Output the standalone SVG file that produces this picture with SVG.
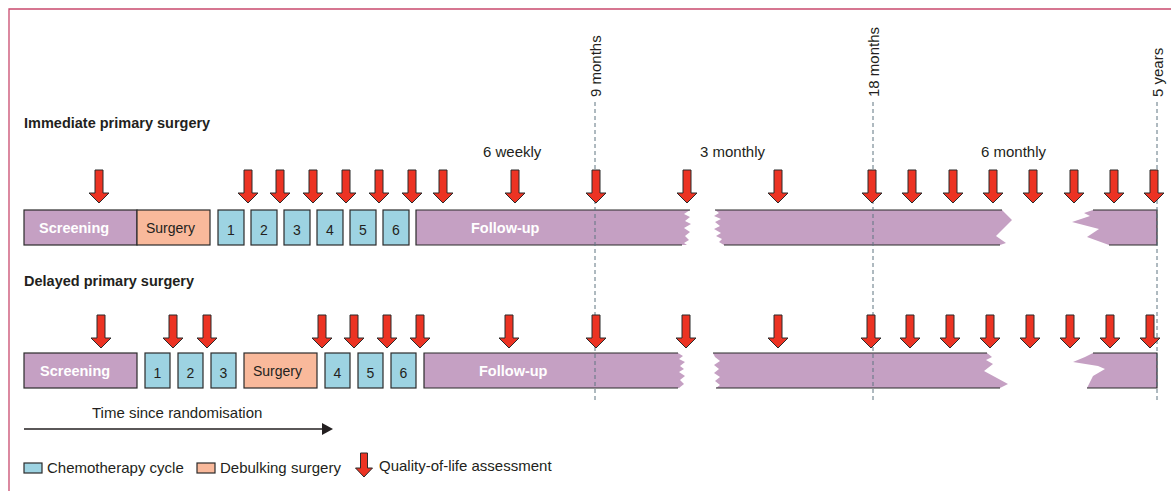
<svg xmlns="http://www.w3.org/2000/svg" width="1171" height="491" viewBox="0 0 1171 491">
<style>
text{font-family:"Liberation Sans",Arial,sans-serif;fill:#231f20}
.lbl{font-size:15px}
.ttl{font-size:14.5px;font-weight:bold}
.wt{font-size:14.5px;font-weight:bold;fill:#fff}
.num{font-size:14px;text-anchor:middle}
.scr{fill:#c5a0c3;stroke:#2b2b2b;stroke-width:1.2}
.sur{fill:#f9b99b;stroke:#2b2b2b;stroke-width:1.2}
.che{fill:#9dd3e2;stroke:#2b2b2b;stroke-width:1.2}
.fu{fill:#c5a0c3;stroke:none}
.edge{fill:none;stroke:#2b2b2b;stroke-width:1.2}
.dash{stroke:#5f7480;stroke-width:1;stroke-dasharray:4 3;fill:none}
.qa{fill:#ec3323;stroke:#2b2b2b;stroke-width:1}
</style>
<defs>
<path id="arr" class="qa" d="M-4,0 H4 V23 H10 L0,33 L-10,23 H-4 Z"/>
</defs>

<g id="border" fill="none" stroke="#c94a6e" stroke-width="1.3">
<path d="M9,491 V9 H1171"/>
</g>

<g id="milestones">
<text class="lbl" transform="translate(601,97) rotate(-90)">9 months</text>
<text class="lbl" transform="translate(879,97) rotate(-90)">18 months</text>
<text class="lbl" transform="translate(1163,97) rotate(-90)">5 years</text>
</g>

<g id="titles">
<text class="ttl" x="24" y="128">Immediate primary surgery</text>
<text class="ttl" x="24" y="286">Delayed primary surgery</text>
</g>

<g id="frequency-labels">
<text class="lbl" x="483" y="157">6 weekly</text>
<text class="lbl" x="700" y="157">3 monthly</text>
<text class="lbl" x="981" y="157">6 monthly</text>
</g>

<!-- Immediate primary surgery row -->
<g id="imm-screening"><rect class="scr" x="24" y="210" width="113" height="35"/><text class="wt" x="39" y="233">Screening</text></g>
<g id="imm-surgery"><rect class="sur" x="137" y="210" width="73" height="35"/><text class="lbl" x="146" y="233" style="font-size:14px">Surgery</text></g>
<g id="imm-c1"><rect class="che" x="218" y="210" width="26" height="35"/><text class="num" x="231" y="235">1</text></g>
<g id="imm-c2"><rect class="che" x="251" y="210" width="26" height="35"/><text class="num" x="264" y="235">2</text></g>
<g id="imm-c3"><rect class="che" x="284" y="210" width="26" height="35"/><text class="num" x="297" y="235">3</text></g>
<g id="imm-c4"><rect class="che" x="317" y="210" width="26" height="35"/><text class="num" x="330" y="235">4</text></g>
<g id="imm-c5"><rect class="che" x="350" y="210" width="26" height="35"/><text class="num" x="363" y="235">5</text></g>
<g id="imm-c6"><rect class="che" x="383" y="210" width="26" height="35"/><text class="num" x="396" y="235">6</text></g>
<g id="imm-followup">
<path class="fu" d="M416,210 H690 L684,214 L690,217 L685,221 L691,224 L684,228 L690,232 L685,236 L689,240 L684,243 L687,245 H416 Z"/>
<path class="edge" d="M690,210 H416 V245 H682"/>
<path class="fu" d="M715,210 H1002 L1012,220 L996,236 L1006,243 L1000,245 H724 L719,242 L722,239 L716,236 L721,233 L714,229 L720,226 L715,222 L721,219 L714,216 L719,213 Z"/>
<path class="edge" d="M715,210 H1002 M724,245 H1000"/>
<path class="fu" d="M1093,210 H1157 V245 H1109 L1087,237 L1099,229 L1072,222 L1090,216 L1084,213 Z"/>
<path class="edge" d="M1093,210 H1157 V245 H1109"/>
<text class="wt" x="471" y="233">Follow-up</text>
</g>

<!-- Delayed primary surgery row -->
<g id="del-screening"><rect class="scr" x="24" y="353" width="113" height="35"/><text class="wt" x="40" y="376">Screening</text></g>
<g id="del-c1"><rect class="che" x="145" y="353" width="25" height="35"/><text class="num" x="157.5" y="378">1</text></g>
<g id="del-c2"><rect class="che" x="178" y="353" width="25" height="35"/><text class="num" x="190.5" y="378">2</text></g>
<g id="del-c3"><rect class="che" x="211" y="353" width="25" height="35"/><text class="num" x="223.5" y="378">3</text></g>
<g id="del-surgery"><rect class="sur" x="244" y="353" width="73" height="35"/><text class="lbl" x="253" y="376" style="font-size:14px">Surgery</text></g>
<g id="del-c4"><rect class="che" x="325" y="353" width="25" height="35"/><text class="num" x="337.5" y="378">4</text></g>
<g id="del-c5"><rect class="che" x="358" y="353" width="25" height="35"/><text class="num" x="370.5" y="378">5</text></g>
<g id="del-c6"><rect class="che" x="391" y="353" width="25" height="35"/><text class="num" x="403.5" y="378">6</text></g>
<g id="del-followup">
<path class="fu" d="M424,353 H678 L683,356 L679,359 L685,362 L680,366 L684,369 L679,372 L685,376 L680,380 L684,384 L679,388 H424 Z"/>
<path class="edge" d="M678,353 H424 V388 H678"/>
<path class="fu" d="M713,353 H987 L992,357 L986,360 L993,364 L984,371 L1008,384 L1000,388 H716 L720,385 L715,381 L720,377 L714,373 L719,369 L714,365 L720,361 L715,357 Z"/>
<path class="edge" d="M713,353 H987 M716,388 H1000"/>
<path class="fu" d="M1093,353 H1157 V388 H1087 L1093,376 L1105,369 L1098,366 L1073,362 L1085,357 Z"/>
<path class="edge" d="M1093,353 H1157 V388 H1087"/>
<text class="wt" x="479" y="376">Follow-up</text>
</g>

<g id="connectors">
<g id="timepoint-lines">
<line class="dash" x1="595" y1="102" x2="595" y2="403"/>
<line class="dash" x1="873" y1="102" x2="873" y2="403"/>
<line class="dash" x1="1157" y1="102" x2="1157" y2="403"/>
</g>
<g id="imm-qol">
<use href="#arr" x="99" y="170"/>
<use href="#arr" x="248" y="170"/>
<use href="#arr" x="280" y="170"/>
<use href="#arr" x="313" y="170"/>
<use href="#arr" x="346" y="170"/>
<use href="#arr" x="379" y="170"/>
<use href="#arr" x="412" y="170"/>
<use href="#arr" x="443" y="170"/>
<use href="#arr" x="515" y="170"/>
<use href="#arr" x="596" y="170"/>
<use href="#arr" x="687" y="170"/>
<use href="#arr" x="778" y="170"/>
<use href="#arr" x="872" y="170"/>
<use href="#arr" x="912" y="170"/>
<use href="#arr" x="953" y="170"/>
<use href="#arr" x="993" y="170"/>
<use href="#arr" x="1033" y="170"/>
<use href="#arr" x="1074" y="170"/>
<use href="#arr" x="1114" y="170"/>
<use href="#arr" x="1154" y="170"/>
</g>
<g id="del-qol">
<use href="#arr" x="101" y="315"/>
<use href="#arr" x="173" y="315"/>
<use href="#arr" x="207" y="315"/>
<use href="#arr" x="322" y="315"/>
<use href="#arr" x="354" y="315"/>
<use href="#arr" x="387" y="315"/>
<use href="#arr" x="420" y="315"/>
<use href="#arr" x="509" y="315"/>
<use href="#arr" x="596" y="315"/>
<use href="#arr" x="686" y="315"/>
<use href="#arr" x="778" y="315"/>
<use href="#arr" x="871" y="315"/>
<use href="#arr" x="910" y="315"/>
<use href="#arr" x="950" y="315"/>
<use href="#arr" x="990" y="315"/>
<use href="#arr" x="1030" y="315"/>
<use href="#arr" x="1070" y="315"/>
<use href="#arr" x="1110" y="315"/>
<use href="#arr" x="1150" y="315"/>
</g>
<g id="time-axis">
<line x1="24" y1="429" x2="323" y2="429" stroke="#231f20" stroke-width="1.3"/>
<path d="M322,423 L333,429 L322,435 Z" fill="#231f20"/>
</g>
</g>

<g id="time-label"><text class="lbl" x="92" y="418">Time since randomisation</text></g>

<g id="legend">
<rect class="che" x="24" y="463" width="18" height="10"/>
<text class="lbl" x="47" y="473">Chemotherapy cycle</text>
<rect class="sur" x="197" y="463" width="18" height="10"/>
<text class="lbl" x="220" y="473">Debulking surgery</text>
<path class="qa" d="M360.5,453 H367.5 V468 H372.5 L364,477 L355.5,468 H360.5 Z"/>
<text class="lbl" x="379" y="471">Quality-of-life assessment</text>
</g>
</svg>
